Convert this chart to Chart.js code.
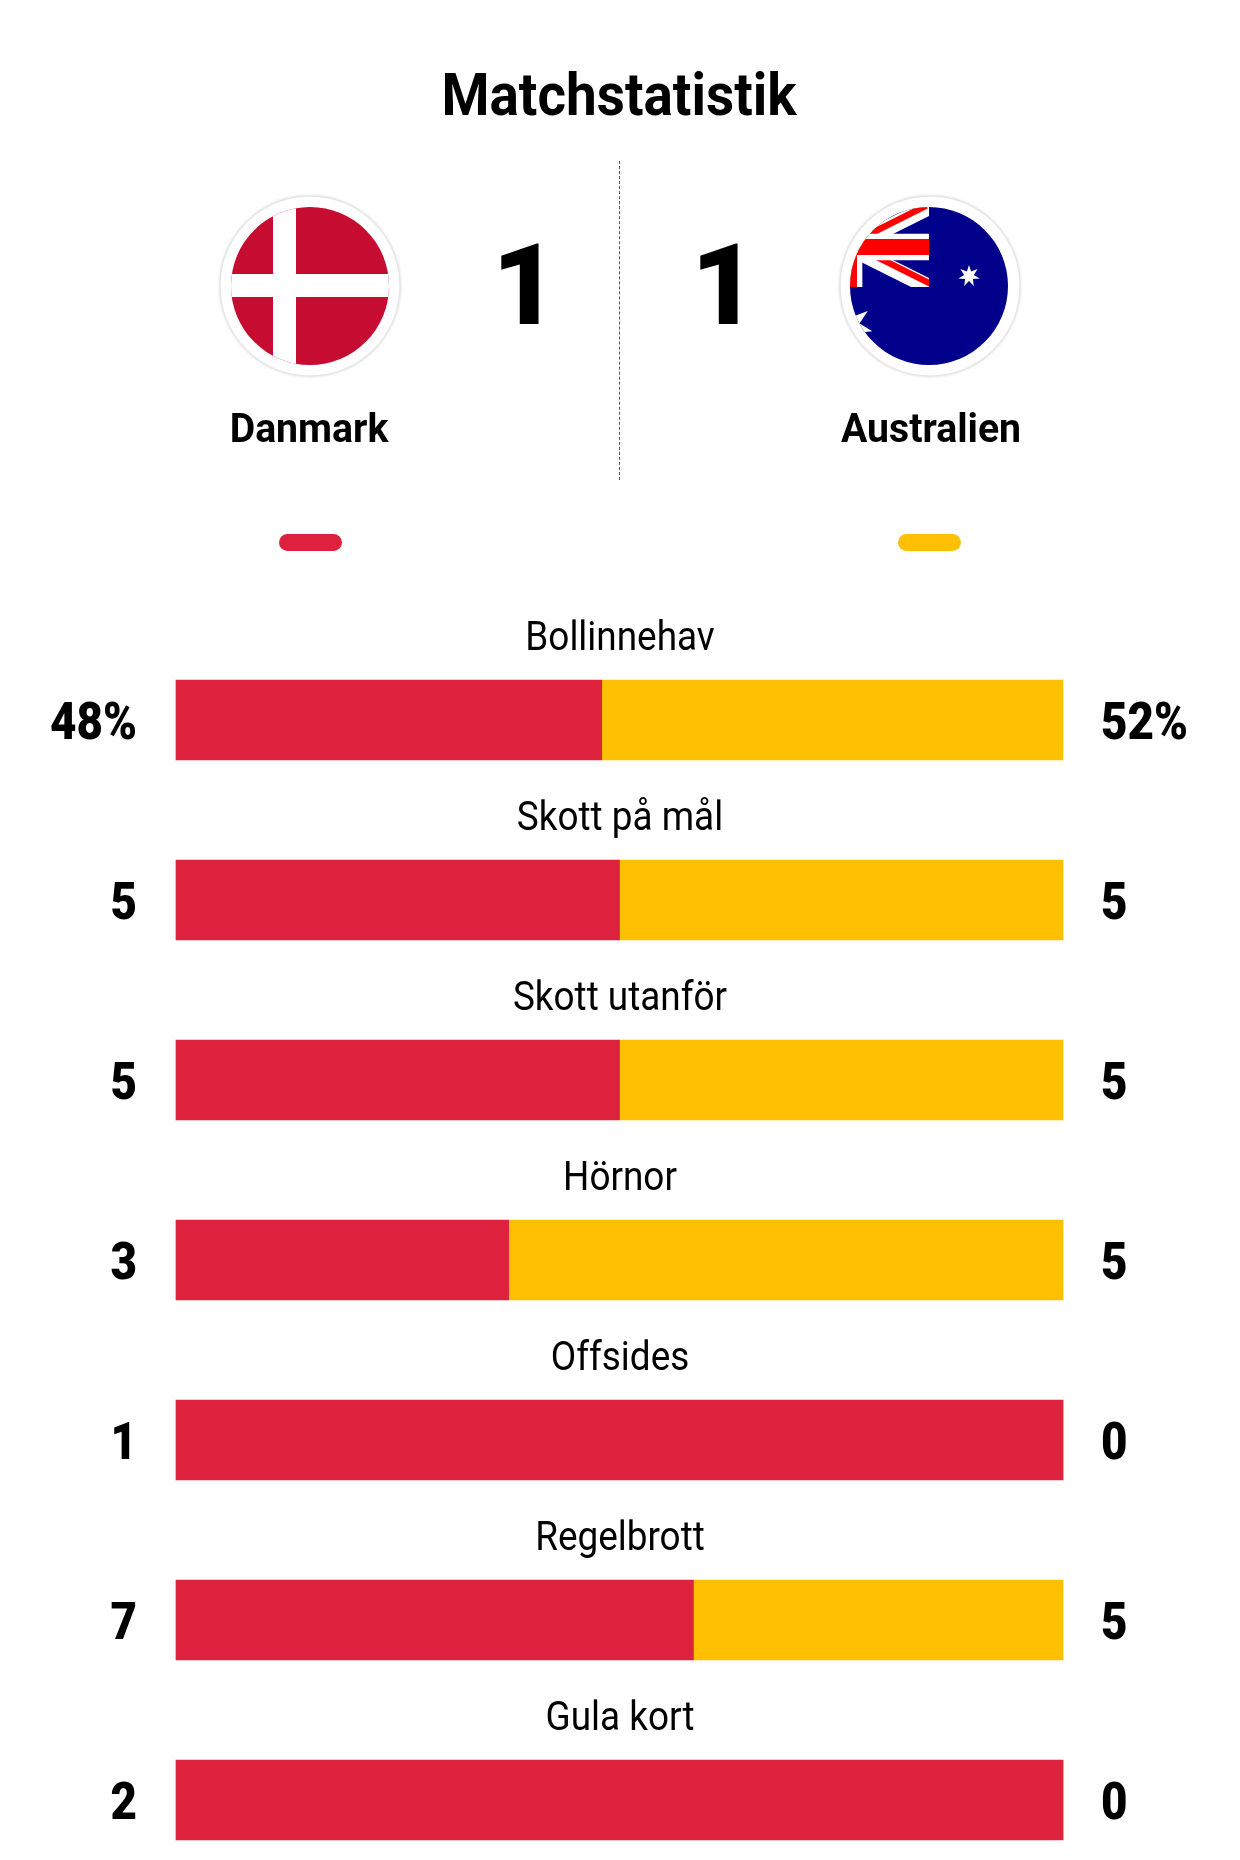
<!DOCTYPE html>
<html lang="sv">
<head>
<meta charset="utf-8">
<title>Matchstatistik</title>
<script src="https://cdn.jsdelivr.net/npm/chart.js@4/dist/chart.umd.min.js"></script>
<style>
  html, body { margin: 0; padding: 0; background: #fff; }
  body { width: 1240px; height: 1860px; position: relative; overflow: hidden; font-family: Roboto, sans-serif; color: #000; }
  canvas { position: absolute; left: 0; top: 0; }
  .txt { position: absolute; white-space: nowrap; font-weight: 700; line-height: 1; }
  #title { left: 619px; top: 94px; font-size: 59px; transform: translate(-50%, -50%) scaleX(0.93); }
  .score { top: 285px; font-size: 114px; font-weight: 900; transform: translate(-50%, -50%); }
  .team { top: 429px; font-size: 40px; transform: translate(-50%, -50%) scaleX(0.98); }
  .pill { position: absolute; top: 534px; width: 63px; height: 17px; border-radius: 9px; }
  #divider { position: absolute; left: 619px; top: 161px; height: 319px; border-left: 1px dashed #555; }
  svg { position: absolute; left: 0; top: 0; }
</style>
</head>
<body>
<svg width="1240" height="500" viewBox="0 0 1240 500">
  <defs>
    <clipPath id="clipDk"><circle cx="310" cy="286" r="79"/></clipPath>
    <clipPath id="clipAu"><circle cx="929" cy="286" r="79"/></clipPath>
    <filter id="ringShadow" x="-10%" y="-10%" width="120%" height="120%"><feGaussianBlur stdDeviation="1"/></filter>
  </defs>
  <circle cx="310" cy="286" r="91" fill="#ddd" filter="url(#ringShadow)"/>
  <circle cx="310" cy="286" r="89.5" fill="#fff"/>
  <g clip-path="url(#clipDk)">
    <rect x="231" y="207" width="158" height="158" fill="#c60c30"/>
    <rect x="273" y="207" width="23" height="158" fill="#fff"/>
    <rect x="231" y="274" width="158" height="23" fill="#fff"/>
  </g>
  <circle cx="930" cy="286" r="91" fill="#ddd" filter="url(#ringShadow)"/>
  <circle cx="930" cy="286" r="89.5" fill="#fff"/>
  <g clip-path="url(#clipAu)">
    <rect x="769" y="207" width="320" height="158" fill="#00008b"/>
    <svg x="769" y="207" width="160" height="80" viewBox="0 0 60 30" preserveAspectRatio="none">
      <path d="M0,0 L60,30 M60,0 L0,30" stroke="#fff" stroke-width="6"/>
      <path d="M0,0 L30,15 M0,30 L30,15 M29,14.5 L59,-0.5 M30,13.5 L62,29.5" stroke="#f00" stroke-width="2.4"/>
      <path d="M30,0 V30 M0,15 H60" stroke="#fff" stroke-width="10"/>
      <path d="M30,0 V30 M0,15 H60" stroke="#f00" stroke-width="6"/>
    </svg>
    <polygon id="starBig" fill="#fff"/>
    <polygon id="starSmall" fill="#fff"/>
  </g>
</svg>
<canvas id="stats" width="1240" height="1860"></canvas>
<div id="title" class="txt">Matchstatistik</div>
<div class="txt score" style="left:525px">1</div>
<div class="txt score" style="left:724px">1</div>
<div class="txt team" style="left:309px">Danmark</div>
<div class="txt team" style="left:931px">Australien</div>
<div id="divider"></div>
<div class="pill" style="left:279px;background:#de223e"></div>
<div class="pill" style="left:898px;background:#ffc003"></div>
<script>
const categories = ['Bollinnehav', 'Skott på mål', 'Skott utanför', 'Hörnor', 'Offsides', 'Regelbrott', 'Gula kort'];
const homeValues = [48, 5, 5, 3, 1, 7, 2];
const awayValues = [52, 5, 5, 5, 0, 5, 0];
const homeLabels = ['48%', '5', '5', '3', '1', '7', '2'];
const awayLabels = ['52%', '5', '5', '5', '0', '5', '0'];

const red = '#de223e';
const yellow = '#ffc003';

//Bars show each side's share of the row total
const homeShare = homeValues.map((v, i) => v / (v + awayValues[i]) * 100);
const awayShare = awayValues.map((v, i) => v / (homeValues[i] + v) * 100);

//Seven pointed stars for the australian flag
function starPoints(cx, cy, r) {
    let pts = [];
    for (let i = 0; i < 14; i++) {
        let rad = i % 2 === 0 ? r : r * 0.45;
        let a = -Math.PI / 2 + i * Math.PI / 7;
        pts.push((cx + rad * Math.cos(a)).toFixed(1) + ',' + (cy + rad * Math.sin(a)).toFixed(1));
    }
    return pts.join(' ');
}
document.getElementById('starBig').setAttribute('points', starPoints(849, 326, 24));
document.getElementById('starSmall').setAttribute('points', starPoints(969, 276, 11));

//Canvas text can only be narrowed with a transform
function narrowText(ctx, text, x, y, squeeze) {
    ctx.save();
    ctx.translate(x, y);
    ctx.scale(squeeze, 1);
    ctx.fillText(text, 0, 0);
    ctx.restore();
}

//Row names above the bars, values on both sides of them
const rowText = {
    id: 'rowText',
    afterDatasetsDraw(chart) {
        const ctx = chart.ctx;
        const yScale = chart.scales.y;
        const rightScale = chart.scales.y2;
        ctx.save();
        ctx.fillStyle = '#000';
        ctx.textBaseline = 'middle';

        ctx.font = '400 41px Roboto, sans-serif';
        ctx.textAlign = 'center';
        categories.forEach((name, i) => {
            narrowText(ctx, name, 620, yScale.getPixelForTick(i) - 80, 0.9);
        });

        ctx.font = '900 52px Roboto, sans-serif';
        ctx.textAlign = 'right';
        yScale.ticks.forEach((tick, i) => {
            narrowText(ctx, tick.label, chart.chartArea.left - 39, yScale.getPixelForTick(i) + 6, 0.88);
        });
        ctx.textAlign = 'left';
        rightScale.ticks.forEach((tick, i) => {
            narrowText(ctx, tick.label, chart.chartArea.right + 38, rightScale.getPixelForTick(i) + 6, 0.88);
        });
        ctx.restore();
    }
};

new Chart(document.getElementById('stats'), {
    type: 'bar',
    data: {
        labels: categories,
        datasets: [
            { label: 'Danmark', data: homeShare, backgroundColor: red, barThickness: 80, clip: false },
            { label: 'Australien', data: awayShare, backgroundColor: yellow, barThickness: 80, clip: false }
        ]
    },
    options: {
        indexAxis: 'y',
        responsive: false,
        animation: false,
        layout: { padding: { top: 720, bottom: 60 } },
        plugins: { legend: { display: false }, tooltip: { enabled: false } },
        scales: {
            x: { stacked: true, min: 0, max: 100, display: false },
            y: {
                stacked: true,
                offset: false,
                position: 'left',
                grid: { display: false },
                border: { display: false },
                afterFit(scale) { scale.width = 176; },
                ticks: { autoSkip: false, display: false, callback: (value, index) => homeLabels[index] }
            },
            y2: {
                type: 'category',
                labels: categories,
                offset: false,
                position: 'right',
                grid: { display: false },
                border: { display: false },
                afterFit(scale) { scale.width = 177; },
                ticks: { autoSkip: false, display: false, callback: (value, index) => awayLabels[index] }
            }
        }
    },
    plugins: [rowText]
});
</script>
</body>
</html>
